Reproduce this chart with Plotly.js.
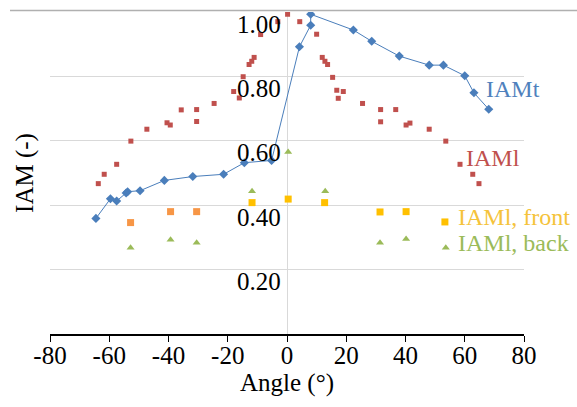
<!DOCTYPE html>
<html>
<head>
<meta charset="utf-8">
<script src="https://cdn.plot.ly/plotly-3.0.1.min.js"></script>
<style>html,body{margin:0;padding:0;background:#fff;}#chart{width:577px;height:407px;}</style>
</head>
<body>
<div id="chart"></div>
<script>
// IAMt (blue diamonds with line)
const iamtAngle = [-64.5, -59.6, -57.5, -54.3, -53.8, -49.6, -41.4, -31.8, -21.4, -14.4, -5.2, 4.2, 8.0, 8.0, 22.4, 28.6, 37.9, 48.0, 52.8, 60.0, 63.1, 68.1];
const iamtValue = [0.359, 0.420, 0.413, 0.438, 0.442, 0.445, 0.477, 0.489, 0.496, 0.532, 0.539, 0.892, 0.959, 0.993, 0.944, 0.909, 0.863, 0.835, 0.835, 0.802, 0.749, 0.698];

// IAMl (red squares)
const iamlAngle = [-63.7, -61.7, -57.5, -52.7, -47.3, -40.5, -39.4, -35.7, -30.5, -30.5, -24.6, -18.0, -16.1, -14.8, -12.8, -11.9, -11.1, -8.9, -3.1, 0.2,
                   4.3, 10.0, 11.9, 12.8, 13.7, 15.4, 16.8, 17.3, 19.0, 25.5, 31.6, 31.6, 36.7, 40.2, 41.5, 48.0, 53.6, 58.4, 62.7, 64.8];
const iamlValue = [0.467, 0.496, 0.527, 0.599, 0.636, 0.656, 0.649, 0.696, 0.697, 0.660, 0.716, 0.753, 0.733, 0.799, 0.837, 0.847, 0.859, 0.930, 0.970, 0.993,
                   0.970, 0.931, 0.859, 0.847, 0.837, 0.797, 0.757, 0.732, 0.753, 0.716, 0.697, 0.659, 0.697, 0.649, 0.655, 0.636, 0.599, 0.527, 0.496, 0.467];

// IAMl, front (squares)
const frontAngle = [-52.8, -39.3, -30.5, -11.8, 0.4, 12.7, 31.4, 40.2, 53.3];
const frontValue = [0.346, 0.380, 0.380, 0.408, 0.419, 0.408, 0.379, 0.380, 0.348];

// IAMl, back (triangles)
const backAngle = [-52.8, -39.3, -30.5, -11.8, 0.4, 12.9, 31.4, 40.2, 53.6];
const backValue = [0.268, 0.293, 0.283, 0.443, 0.565, 0.443, 0.283, 0.295, 0.268];

const xTickVals = [-80, -60, -40, -20, 0, 20, 40, 60, 80];
const xTickText = ['-80', '-60', '-40', '-20', '0', '20', '40', '60', '80'];
const yTickVals = [0.2, 0.4, 0.6, 0.8, 1.0];
const yTickText = ['0.20', '0.40', '0.60', '0.80', '1.00'];

const seriesLabels = ['IAMt', 'IAMl', 'IAMl, front', 'IAMl, back'];
const labelAngle = [66.5, 59.7, 56.9, 56.9];
const labelValue = [0.760, 0.546, 0.362, 0.284];

const BLUE = '#4a7ebb', RED = '#c0504d', GOLD = '#ffc000', ORANGE = '#f79646', GREEN = '#9bbb59';
const labelColors = ['#4f81bd', RED, '#f5c33b', GREEN];
const FONT = 'Liberation Serif, Times New Roman, serif';

const traces = [
  {x: iamtAngle, y: iamtValue, mode: 'lines+markers', type: 'scatter',
   line: {color: BLUE, width: 1}, marker: {symbol: 'diamond', size: 7, color: BLUE}},
  {x: iamlAngle, y: iamlValue, mode: 'markers', type: 'scatter',
   marker: {symbol: 'square', size: 5, color: RED}},
  {x: frontAngle, y: frontValue, mode: 'markers', type: 'scatter',
   marker: {symbol: 'square', size: 7, color: frontAngle.map(a => a < -20 ? ORANGE : GOLD)}},
  {x: backAngle, y: backValue, mode: 'markers', type: 'scatter',
   marker: {symbol: 'triangle-up', size: 7, color: GREEN}}
];

const annotations = [];
yTickVals.forEach((v, i) => annotations.push({
  x: 0, y: v, xref: 'x', yref: 'y', text: yTickText[i], showarrow: false,
  xanchor: 'right', yanchor: 'middle', xshift: -4, yshift: -12,
  font: {family: FONT, size: 25, color: '#000'}
}));
seriesLabels.forEach((t, i) => annotations.push({
  x: labelAngle[i], y: labelValue[i], xref: 'x', yref: 'y', text: t, showarrow: false,
  xanchor: 'left', yanchor: 'middle', font: {family: FONT, size: 24, color: labelColors[i]}
}));

const layout = {
  width: 577, height: 407,
  margin: {l: 50, r: 53, t: 12, b: 73, pad: 0},
  paper_bgcolor: '#fff', plot_bgcolor: '#fff',
  showlegend: false,
  font: {family: FONT, size: 25, color: '#000'},
  xaxis: {
    range: [-80, 80], tickvals: xTickVals, ticktext: xTickText, ticks: 'outside', ticklen: 6, tickcolor: '#000', tickwidth: 1,
    ticklabelstandoff: -8,
    showline: true, linecolor: '#000', linewidth: 1.5, showgrid: false,
    zeroline: true, zerolinecolor: '#d9d9d9', zerolinewidth: 1,
    tickfont: {family: FONT, size: 25, color: '#000'},
    title: {text: 'Angle (°)', font: {family: FONT, size: 25, color: '#000'}, standoff: 4}
  },
  yaxis: {
    range: [0, 1.0], tickvals: [0.2, 0.4, 0.6, 0.8], showticklabels: false, ticks: '',
    showgrid: true, gridcolor: '#d9d9d9', gridwidth: 1, zeroline: false, showline: false,
    title: {text: 'IAM (-)', font: {family: FONT, size: 25, color: '#000'}, standoff: 8}
  },
  shapes: [
    {type: 'line', xref: 'paper', yref: 'paper', x0: -40/474, x1: 527/474, y0: 1.005, y1: 1.005,
     line: {color: '#b0b0b0', width: 1.5}}
  ],
  annotations: annotations
};

Plotly.newPlot('chart', traces, layout, {displayModeBar: false, staticPlot: true});
</script>
</body>
</html>
